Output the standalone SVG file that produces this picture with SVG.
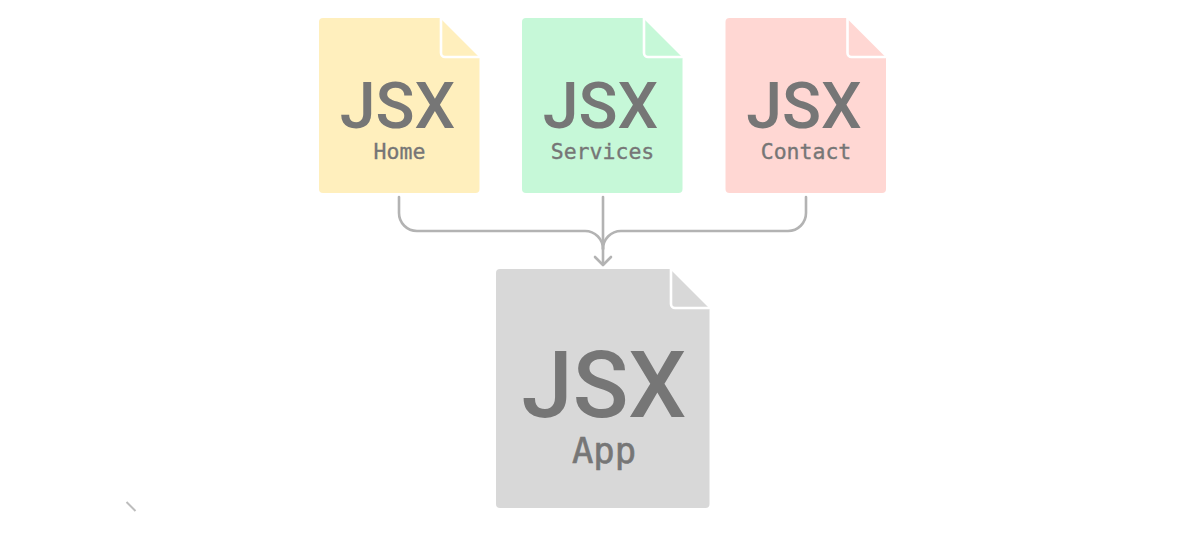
<svg xmlns="http://www.w3.org/2000/svg" width="1181" height="534" viewBox="0 0 1181 534">
<style>
.j{font-family:Roboto,"Liberation Sans",sans-serif;font-weight:500;fill:#767676;text-anchor:middle}
.big{font-size:64.500px}
.sub{font-family:"DejaVu Sans Mono","Liberation Mono",monospace;font-weight:400;font-size:21.500px;stroke:#767676;stroke-width:.35px}
.fold{fill:none;stroke:#fff;stroke-width:2.600;stroke-linecap:round;stroke-linejoin:round}
.c{fill:none;stroke:#b3b3b3;stroke-width:2.600;stroke-linecap:round;stroke-linejoin:round}
</style>
<rect width="1181" height="534" fill="#fff"/>
<g id="home">
<path d="M323 18H440L479.500 57.500V189a4 4 0 0 1-4 4H323a4 4 0 0 1-4-4V22a4 4 0 0 1 4-4Z" fill="#ffefbd"/>
<path class="fold" d="M441 18V53a4 4 0 0 0 4 4H479"/>
<text class="j big" x="397.500" y="128">JSX</text>
<text class="j sub" x="399.500" y="159">Home</text>
</g>
<g id="services">
<path d="M526 18H643L682.500 57.500V189a4 4 0 0 1-4 4H526a4 4 0 0 1-4-4V22a4 4 0 0 1 4-4Z" fill="#c6f8d8"/>
<path class="fold" d="M644 18V53a4 4 0 0 0 4 4H682"/>
<text class="j big" x="600.500" y="128">JSX</text>
<text class="j sub" x="602.500" y="159">Services</text>
</g>
<g id="contact">
<path d="M729.500 18H846.500L886 57.500V189a4 4 0 0 1-4 4H729.500a4 4 0 0 1-4-4V22a4 4 0 0 1 4-4Z" fill="#ffd7d3"/>
<path class="fold" d="M847.500 18V53a4 4 0 0 0 4 4H885.500"/>
<text class="j big" x="804" y="128">JSX</text>
<text class="j sub" x="806" y="159">Contact</text>
</g>
<g id="app">
<path d="M500 269H670L709.500 308.500V504a4 4 0 0 1-4 4H500a4 4 0 0 1-4-4V273a4 4 0 0 1 4-4Z" fill="#d8d8d8"/>
<path class="fold" d="M671 269V304a4 4 0 0 0 4 4H709"/>
<text class="j" font-size="92" x="604" y="416.500">JSX</text>
<text class="j sub" style="font-size:35.500px;stroke-width:.6px" x="604" y="463">App</text>
</g>
<g id="connectors">
<path class="c" d="M399 197V213a18 18 0 0 0 18 18H585a18 18 0 0 1 18 18"/>
<path class="c" d="M806 197V213a18 18 0 0 1-18 18H621a18 18 0 0 0-18 18"/>
<path class="c" d="M603 197V264"/>
<path class="c" d="M595 257L603 265L611 257"/>
<path d="M126.500 502L135.500 511" fill="none" stroke="#bdbdbd" stroke-width="2"/>
</g>
</svg>
